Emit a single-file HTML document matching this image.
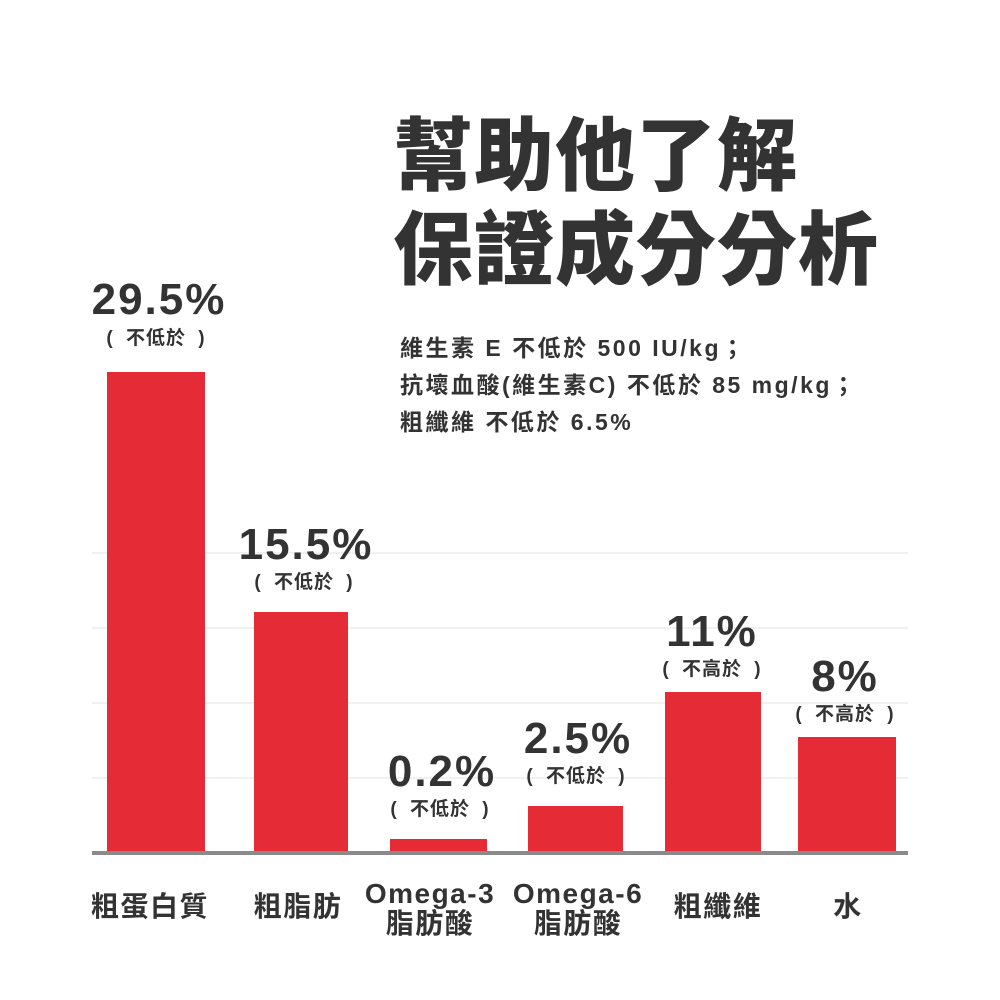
<!DOCTYPE html>
<html><head><meta charset="utf-8"><style>
body{margin:0;background:#fff;}
.c{position:relative;width:1000px;height:1000px;overflow:hidden;font-family:"Liberation Sans","Noto Sans CJK TC",sans-serif;color:#333;}
.a{position:absolute;}
.g{position:absolute;left:92px;width:816px;height:2px;background:#f1f1f1;}
.b{position:absolute;background:#e52b35;}
.v{position:absolute;font-weight:bold;font-size:44px;text-align:center;width:200px;line-height:44px;letter-spacing:2px;}
.n{position:absolute;font-weight:bold;font-size:19px;text-align:center;width:200px;line-height:22px;letter-spacing:1px;word-spacing:6px;}
.l{position:absolute;font-weight:bold;font-size:28px;text-align:center;width:200px;line-height:30px;top:879px;letter-spacing:1.5px;}
</style></head><body><div class="c">
<div class="a" style="left:393px;top:110px;font-size:80px;font-weight:900;line-height:94px;letter-spacing:1px;color:#333;">幫助他了解<br>保證成分分析</div>
<div class="a" style="left:400px;top:330px;font-size:23px;font-weight:bold;line-height:37px;letter-spacing:2.5px;white-space:nowrap;">維生素 E 不低於 500 IU/kg；<br>抗壞血酸(維生素C) 不低於 85 mg/kg；<br>粗纖維 不低於 6.5%</div>
<div class="g" style="top:552px"></div><div class="g" style="top:627px"></div><div class="g" style="top:702px"></div><div class="g" style="top:777px"></div>
<div class="b" style="left:107px;top:372px;width:98px;height:480px"></div>
<div class="b" style="left:254px;top:612px;width:94px;height:240px"></div>
<div class="b" style="left:390px;top:839px;width:97px;height:13px"></div>
<div class="b" style="left:528px;top:806px;width:95px;height:46px"></div>
<div class="b" style="left:665px;top:692px;width:96px;height:160px"></div>
<div class="b" style="left:798px;top:737px;width:98px;height:115px"></div>
<div class="a" style="left:92px;top:851px;width:816px;height:4px;background:#8a8a8a"></div>
<div class="v" style="left:59px;top:278px">29.5%</div><div class="n" style="left:56px;top:328px">( 不低於 )</div>
<div class="v" style="left:206px;top:523px">15.5%</div><div class="n" style="left:204px;top:572px">( 不低於 )</div>
<div class="v" style="left:342px;top:750px">0.2%</div><div class="n" style="left:340px;top:799px">( 不低於 )</div>
<div class="v" style="left:478px;top:717px">2.5%</div><div class="n" style="left:476px;top:766px">( 不低於 )</div>
<div class="v" style="left:612px;top:610px">11%</div><div class="n" style="left:612px;top:659px">( 不高於 )</div>
<div class="v" style="left:745px;top:655px">8%</div><div class="n" style="left:745px;top:704px">( 不高於 )</div>
<div class="l" style="left:50px;top:892px">粗蛋白質</div>
<div class="l" style="left:198px;top:892px">粗脂肪</div>
<div class="l" style="left:330px">Omega-3<br>脂肪酸</div>
<div class="l" style="left:478px">Omega-6<br>脂肪酸</div>
<div class="l" style="left:618px;top:892px">粗纖維</div>
<div class="l" style="left:748px;top:892px">水</div>
</div></body></html>
